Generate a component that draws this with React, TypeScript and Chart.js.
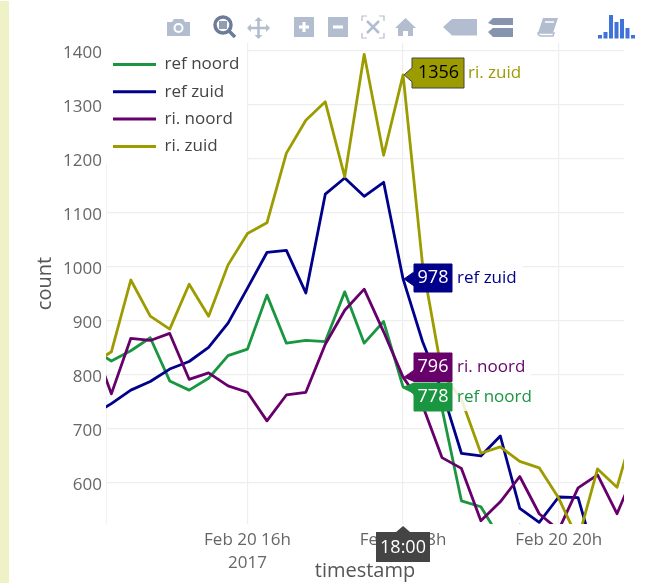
import React, { useEffect, useRef } from "react";
import { Chart, registerables } from "chart.js";

Chart.register(...registerables);

const hours = [14, 14.25, 14.5, 14.75, 15, 15.25, 15.5, 15.75, 16, 16.25, 16.5, 16.75, 17, 17.25, 17.5, 17.75, 18, 18.25, 18.5, 18.75, 19, 19.25, 19.5, 19.75, 20, 20.25, 20.5, 20.75, 21];
const refNoord = [848, 826, 845, 869, 789, 772, 794, 836, 848, 948, 859, 864, 862, 954, 859, 899, 778, 760, 738, 567, 556, 497, 522, 470, 460, 450, 440, 430, 450];
const refZuid = [725, 747, 772, 788, 811, 825, 851, 896, 961, 1027, 1031, 952, 1135, 1165, 1131, 1157, 978, 862, 771, 655, 650, 687, 553, 527, 574, 573, 446, 450, 480];
const riNoord = [865, 765, 868, 864, 877, 792, 804, 780, 768, 715, 763, 768, 857, 920, 959, 880, 796, 744, 647, 627, 530, 565, 612, 543, 513, 591, 615, 543, 628];
const riZuid = [820, 843, 976, 909, 885, 968, 909, 1004, 1062, 1082, 1211, 1272, 1306, 1167, 1394, 1207, 1356, 1005, 804, 755, 655, 667, 640, 628, 572, 495, 626, 592, 717];

const seriesNames = ["ref noord", "ref zuid", "ri. noord", "ri. zuid"];
const seriesColors = ["#1a9641", "#00008b", "#67006b", "#9c9c00"];
const yTicks = [600, 700, 800, 900, 1000, 1100, 1200, 1300, 1400];
const xTicks = [16, 18, 20];
const xTickLabels = [["Feb 20 16h", "2017"], "Feb 20 18h", "Feb 20 20h"];
const hoverHour = 18;
const hoverText = "18:00";

const FONT = "'Open Sans', sans-serif";

const overlayPlugin = {
  id: "overlay",
  beforeLayout(chart: any) {
    const legend = chart.legend;
    legend._layers = () => [
      {
        z: 1,
        draw(area: any) {
          legend.left = 102.7;
          legend.top = 45.7;
          legend.draw(area);
        },
      },
    ];
  },
  beforeDatasetsDraw(chart: any) {
    const c = chart.ctx;
    c.save();
    c.fillStyle = "#ffffff";
    c.fillRect(105, 40, 142, 123);
    c.restore();
  },
  afterDraw(chart: any) {
    const c = chart.ctx;
    const xs = chart.scales.x;
    const ys = chart.scales.y;
    const idx = hours.indexOf(hoverHour);
    const tipX = xs.getPixelForValue(hoverHour) + 1;
    const tags = [
      { v: riZuid[idx], i: 3, top: 58, h: 30, left: 412, right: 464, fg: "#000000", line: "#444444" },
      { v: refZuid[idx], i: 1, top: 264, h: 28, left: 414, right: 452, fg: "#ffffff", line: seriesColors[1] },
      { v: riNoord[idx], i: 2, top: 353, h: 28.5, left: 414, right: 452, fg: "#ffffff", line: seriesColors[2] },
      { v: refNoord[idx], i: 0, top: 383, h: 28, left: 414, right: 452, fg: "#ffffff", line: seriesColors[0] },
    ];
    for (const t of tags) {
      const ty = ys.getPixelForValue(t.v);
      const cy = t.top + t.h / 2;
      const name = seriesNames[t.i];
      c.save();
      c.font = `17px ${FONT}`;
      const w = c.measureText(name).width;
      c.fillStyle = "rgba(255,255,255,0.85)";
      c.fillRect(t.right, t.top, w + 11, t.h);
      c.beginPath();
      c.moveTo(t.left, t.top);
      c.lineTo(t.right, t.top);
      c.lineTo(t.right, t.top + t.h);
      c.lineTo(t.left, t.top + t.h);
      const a = Math.max(t.top + 2, Math.min(t.top + t.h - 2, ty));
      c.lineTo(t.left, Math.min(a + 7, t.top + t.h));
      c.lineTo(tipX, ty);
      c.lineTo(t.left, Math.max(a - 7, t.top));
      c.closePath();
      c.fillStyle = seriesColors[t.i];
      c.fill();
      c.lineWidth = 1;
      c.strokeStyle = t.line;
      c.stroke();
      c.textBaseline = "middle";
      c.textAlign = "center";
      c.fillStyle = t.fg;
      c.font = `18px ${FONT}`;
      c.fillText(String(t.v), (t.left + t.right) / 2 + (t.i === 3 ? 0.5 : 0), cy);
      c.textAlign = "left";
      c.font = `17px ${FONT}`;
      c.fillStyle = seriesColors[t.i];
      c.fillText(name, t.right + (t.i === 3 ? 4 : 5), cy);
      c.restore();
    }
    const bx = xs.getPixelForValue(hoverHour);
    c.save();
    c.beginPath();
    c.moveTo(376, 532);
    c.lineTo(bx - 7, 532);
    c.lineTo(bx, 526);
    c.lineTo(bx + 7, 532);
    c.lineTo(430, 532);
    c.lineTo(430, 562);
    c.lineTo(376, 562);
    c.closePath();
    c.fillStyle = "#444444";
    c.fill();
    c.fillStyle = "#ffffff";
    c.font = `18px ${FONT}`;
    c.textAlign = "center";
    c.textBaseline = "middle";
    c.fillText(hoverText, 403, 548);
    c.restore();
  },
};

const ICON = "#b3bdd0";
const ICON_DARK = "#6d7c98";

function Toolbar() {
  return (
    <svg width={646} height={45} style={{ position: "absolute", left: 0, top: 0, pointerEvents: "none" }}>
      {/* camera */}
      <path d="M167 22 h5 l2 -3 h9 l2 3 h5 v14 h-23 z" fill={ICON} />
      <circle cx={178.5} cy={28} r={5} fill="#fff" />
      <circle cx={178.5} cy={28} r={3} fill={ICON} />
      {/* zoom */}
      <circle cx={223} cy={25} r={8} fill="none" stroke={ICON_DARK} strokeWidth={3.5} />
      <rect x={219} y={21} width={8} height={8} fill={ICON_DARK} opacity={0.75} />
      <path d="M229 31 L235 37" stroke={ICON_DARK} strokeWidth={3.5} />
      {/* pan */}
      <path d="M248 28 h21 M258.5 18 v20" stroke={ICON} strokeWidth={2.5} />
      <path d="M247 28 l4 -4 v8 z M270 28 l-4 -4 v8 z M258.5 17 l-4 4 h8 z M258.5 39 l-4 -4 h8 z" fill={ICON} />
      {/* plus */}
      <rect x={294} y={17} width={20} height={20} fill={ICON} />
      <path d="M299 27 h10 M304 22 v10" stroke="#fff" strokeWidth={3} />
      {/* minus */}
      <rect x={328} y={17} width={20} height={20} fill={ICON} />
      <path d="M333 27 h10" stroke="#fff" strokeWidth={3} />
      {/* autoscale */}
      <path d="M362 21 v-5 h5 M384 21 v-5 h-5 M362 33 v5 h5 M384 33 v5 h-5" fill="none" stroke={ICON} strokeWidth={1.2} />
      <path d="M367 21 L379 33 M379 21 L367 33" stroke={ICON} strokeWidth={2.5} />
      {/* home */}
      <path d="M395 28 L405.5 18 L416 28 h-3 v8 h-5 v-5 h-5 v5 h-5 v-8 z" fill={ICON} />
      {/* spike */}
      <path d="M443 27 L452 19 H477 V35.5 H452 z" fill={ICON} />
      {/* compare */}
      <path d="M488 23 L493 18 H513 V25 H493 z" fill="#8794ad" />
      <path d="M488 32 L493 28 H513 V37 H493 z" fill="#8794ad" />
      {/* book */}
      <path d="M538 33 L543 18 H558 L553 33 z" fill={ICON} />
      <path d="M538 33 q0 3 4 3 h11 l1 -3 h-11 z" fill="none" stroke={ICON} strokeWidth={1.5} />
      <path d="M545 22 h9" stroke="#fff" strokeWidth={1.5} />
      {/* plotly logo */}
      <g fill="#3f73da">
        <rect x={598} y={35} width={4} height={3.5} />
        <rect x={603.5} y={32} width={4} height={6.5} />
        <rect x={609} y={15} width={4} height={23.5} />
        <rect x={614.5} y={22} width={4} height={16.5} />
        <rect x={620} y={19} width={4} height={19.5} />
        <rect x={625.5} y={28} width={4} height={10.5} />
        <rect x={631} y={35} width={4} height={3.5} />
      </g>
    </svg>
  );
}

export default function App() {
  const ref = useRef<HTMLCanvasElement>(null);
  useEffect(() => {
    const all = [refNoord, refZuid, riNoord, riZuid];
    const chart = new Chart(ref.current as any, {
      type: "line",
      plugins: [overlayPlugin as any],
      data: {
        labels: hours,
        datasets: all.map((vals, i) => ({
          label: seriesNames[i],
          data: vals.map((y, k) => ({ x: hours[k], y })),
          borderColor: seriesColors[i],
          backgroundColor: seriesColors[i],
          borderWidth: 2.8,
          pointRadius: 0,
          tension: 0,
          order: 4 - i,
          borderJoinStyle: "round" as const,
        })),
      },
      options: {
        animation: false,
        responsive: false,
        events: [],
        layout: { padding: { top: 43, right: 22, left: 0, bottom: 0 } },
        plugins: {
          tooltip: { enabled: false },
          legend: {
            position: "chartArea" as any,
            align: "start",
            labels: {
              boxWidth: 43,
              boxHeight: 0,
              padding: 10.3,
              color: "#444444",
              font: { family: FONT, size: 17 },
              generateLabels: () =>
                seriesNames.map((text, i) => ({
                  text,
                  fillStyle: seriesColors[i],
                  strokeStyle: seriesColors[i],
                  lineWidth: 3,
                  datasetIndex: i,
                  fontColor: "#444444",
                })),
            },
          },
        },
        scales: {
          x: {
            type: "linear",
            min: 14.181,
            max: 20.84,
            afterBuildTicks(s: any) {
              s.ticks = xTicks.map((value) => ({ value }));
            },
            afterFit(s: any) {
              s.height = 59;
            },
            grid: { color: "#eeeeee", lineWidth: 1.2, drawTicks: false },
            border: { display: false },
            ticks: {
              autoSkip: false,
              maxRotation: 0,
              padding: 5,
              color: "#666666",
              font: { family: FONT, size: 17, lineHeight: 1.33 },
              callback: (_v: any, i: number) => xTickLabels[i],
            },
            title: {
              display: true,
              text: "timestamp",
              color: "#555555",
              font: { family: FONT, size: 20 },
              padding: { top: 1, bottom: 0 },
            },
          },
          y: {
            type: "linear",
            min: 524,
            max: 1415,
            afterBuildTicks(s: any) {
              s.ticks = yTicks.map((value) => ({ value }));
            },
            afterFit(s: any) {
              s.width = 106;
            },
            grid: { color: "#eeeeee", lineWidth: 1.2, drawTicks: false },
            border: { display: true, color: "#f2f2f2", width: 1 },
            ticks: {
              padding: 4,
              color: "#666666",
              font: { family: FONT, size: 17, lineHeight: "5px" },
              callback: (v: any) => ["", String(v)],
            },
            title: {
              display: true,
              text: "count",
              color: "#555555",
              font: { family: FONT, size: 20 },
              padding: { top: 33, bottom: 0 },
            },
          },
        },
      },
    });
    return () => chart.destroy();
  }, []);
  return (
    <div style={{ position: "fixed", left: 0, top: 0, width: 646, height: 583, background: "#fff", overflow: "hidden" }}>
      <div style={{ position: "absolute", left: 0, top: 1, width: 9, height: 582, background: "#eef2c6" }} />
      <canvas ref={ref} width={646} height={583} style={{ position: "absolute", left: 0, top: 0, display: "block" }} />
      <Toolbar />
    </div>
  );
}
